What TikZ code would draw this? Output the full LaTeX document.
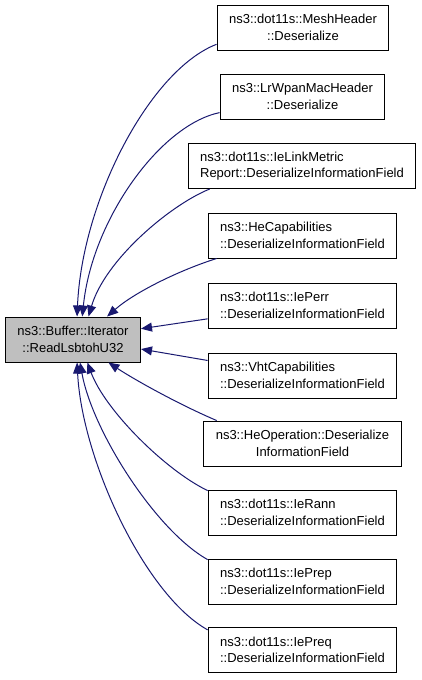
\documentclass[tikz,border=0pt]{standalone}
\usepackage{fontspec}
\setmainfont{Liberation Sans}
\usetikzlibrary{arrows.meta}
\definecolor{midnight}{HTML}{191970}

\begin{document}
\begin{tikzpicture}[x=1pt, y=-1pt,
    fn/.style={draw, fill=white, line width=1pt, minimum height=45pt, inner xsep=12pt, font=\fontsize{13}{16.5}\selectfont},
    focus/.style={fn, fill=black!25},
    call/.style={draw=midnight, line width=1pt, -{Triangle[length=11pt, width=9pt]}}
]
  \useasboundingbox (0,0) rectangle (421,680);
  % Function nodes
  \node[focus, align=center] (n0) at (73,339.5) {ns3::Buffer::Iterator\\::ReadLsbtohU32};
  \node[fn, align=center] (n1) at (303,27.5) {ns3::dot11s::MeshHeader\\::Deserialize};
  \node[fn, align=center] (n2) at (302.5,96.5) {ns3::LrWpanMacHeader\\::Deserialize};
  \node[fn, align=left] (n3) at (302,166) {ns3::dot11s::IeLinkMetric\\Report::DeserializeInformationField};
  \node[fn, align=left] (n4) at (302.5,235.5) {ns3::HeCapabilities\\::DeserializeInformationField};
  \node[fn, align=left] (n5) at (302.5,305.5) {ns3::dot11s::IePerr\\::DeserializeInformationField};
  \node[fn, align=left] (n6) at (302.5,375.5) {ns3::VhtCapabilities\\::DeserializeInformationField};
  \node[fn, align=center] (n7) at (302.5,443.5) {ns3::HeOperation::Deserialize\\InformationField};
  \node[fn, align=left] (n8) at (302.5,512.5) {ns3::dot11s::IeRann\\::DeserializeInformationField};
  \node[fn, align=left] (n9) at (302.5,581.5) {ns3::dot11s::IePrep\\::DeserializeInformationField};
  \node[fn, align=left] (n10) at (302.5,650) {ns3::dot11s::IePreq\\::DeserializeInformationField};
  % Call edges
  \draw[call] (n1.191) .. controls (150,70) and (82,200) .. (n0.80);
  \draw[call] (n2.191) .. controls (160,125) and (92,220) .. (n0.68);
  \draw[call] (n3.194) .. controls (170,205) and (105,260) .. (n0.56);
  \draw[call] (n4.195) .. controls (180,270) and (135,292) .. (n0.34);
  \draw[call] (n5.188) -- (n0.9);
  \draw[call] (n6.171) -- (n0.352);
  \draw[call] (n7.165) .. controls (180,405) and (135,380) .. (n0.327);
  \draw[call] (n8.167) .. controls (165,470) and (105,410) .. (n0.302);
  \draw[call] (n9.167) .. controls (155,530) and (92,430) .. (n0.287);
  \draw[call] (n10.168) .. controls (145,595) and (82,460) .. (n0.280);
\end{tikzpicture}
\end{document}
